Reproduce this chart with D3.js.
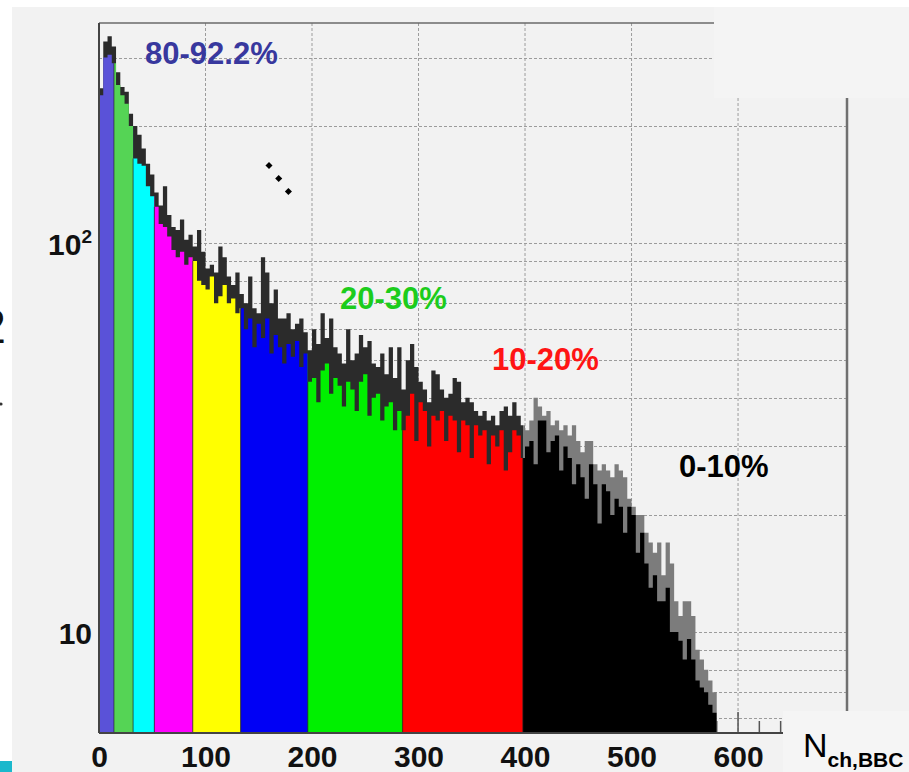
<!DOCTYPE html>
<html>
<head>
<meta charset="utf-8">
<script src="https://cdn.jsdelivr.net/npm/d3@7"></script>
<style>
  html, body { margin: 0; padding: 0; background: #ffffff; }
  svg { display: block; font-family: "Liberation Sans", Arial, Helvetica, sans-serif; }
</style>
</head>
<body>
<svg id="chart" width="909" height="772"></svg>
<script>
// Multiplicity distribution of BBC charge, split into centrality classes.
const binWidth = 4; // N_ch,BBC units per bin, first bin starts at 0

// Class-selected counts per bin (the coloured fill).
const fillCounts = [
  240, 300, 305, 290, 255, 240, 228, 200, 165, 160,
  158, 140, 132, 124, 112, 110, 104, 96, 92, 95,
  88, 92, 90, 80, 78, 76, 82, 70, 73, 78,
  70, 72, 66, 68, 60, 64, 54, 62, 57, 64,
  52, 58, 54, 49, 55, 51, 56, 48, 52, 44,
  45, 39, 47, 49, 41, 45, 43, 38, 44, 42,
  37, 44, 46, 36, 40, 41, 35, 38, 39, 33,
  37, 33, 36, 41, 31, 39, 37, 30, 36, 35,
  37, 31, 36, 35, 29, 35, 34, 28, 34, 32,
  33, 27, 32, 30, 33, 26, 29, 33, 32, 28,
  30, 31, 27, 35, 35, 29, 31, 32, 26, 30,
  28, 24, 27, 25, 22, 27, 24, 19, 24, 23,
  20, 22, 21, 18, 21, 20, 16, 18, 15, 13,
  14, 12, 12, 13, 10, 10, 9.5, 8.5, 9.6, 8.5,
  7.5, 7.2, 7.0, 6.5, 6.2
];

// Full minimum-bias counts per bin (the outline histogram).
const spikeCounts = [
  250, 330, 340, 320, 275, 252, 245, 215, 200, 190,
  175, 160, 150, 135, 125, 140, 118, 110, 108, 115,
  102, 105, 98, 108, 95, 86, 88, 84, 98, 92,
  82, 78, 84, 74, 70, 82, 68, 66, 92, 84,
  70, 76, 64, 64, 66, 60, 62, 64, 59, 53,
  60, 55, 66, 57, 64, 54, 52, 49, 60, 50,
  52, 58, 54, 56, 49, 48, 52, 46, 54, 45,
  54, 42, 50, 55, 48, 44, 42, 39, 47, 46,
  42, 40, 41, 45, 44, 39, 40, 39, 37, 36,
  37, 35, 36, 34, 37, 38, 36, 39, 36, 34,
  33, 35, 40, 38, 36, 37, 34, 35, 33, 34,
  32, 34, 31, 29, 31, 31, 27, 26, 27, 26,
  25, 27, 26, 25, 22, 21, 20, 20, 18, 17,
  16, 17, 14, 17, 15, 12, 11, 12, 12, 11,
  9, 8.5, 8, 7.5, 7
];

// Centrality class boundaries in N_ch,BBC (from peripheral to central).
const classEdges = [0, 14, 32, 52, 88, 133, 196, 285, 398, 580];
const classColors = ["#5a52d8", "#55d455", "#00ffff", "#ff00ff", "#ffff00",
                     "#0000f5", "#00f000", "#ff0000", "#000000"];

// Labelled classes.
const classLabels = ["80-92.2%", "20-30%", "10-20%", "0-10%"];
const classLabelColors = ["#38389e", "#1ccc1c", "#ff1414", "#000000"];

const xTickValues = [0, 100, 200, 300, 400, 500, 600];
const yTickValues = [10, 100];
const yGridValues = [6, 7, 8, 9, 10, 20, 30, 40, 50, 60, 70, 80, 90, 100, 200, 300];

const svg = d3.select("#chart");
const W = 909, H = 772;
const frame = { left: 99, right: 847, top: 23, bottom: 733 };

// Page backdrop
svg.append("rect").attr("width", W).attr("height", H).attr("fill", "#ffffff");
svg.append("rect").attr("x", 12).attr("y", 7).attr("width", W - 12).attr("height", H - 7).attr("fill", "#f2f2f2");

const x = d3.scaleLinear().domain([0, 702.3]).range([frame.left, frame.right]);
const y = d3.scaleLog().domain([5.5, 368]).range([frame.bottom, frame.top]);
const yMin = y.domain()[0];

// Grid
const grid = svg.append("g").attr("stroke", "#9c9c9c").attr("stroke-width", 1).attr("stroke-dasharray", "3,2");
grid.selectAll("line.v").data(xTickValues.filter(v => v > 0)).join("line")
  .attr("x1", d => x(d)).attr("x2", d => x(d))
  .attr("y1", frame.top).attr("y2", frame.bottom);
grid.selectAll("line.h").data(yGridValues).join("line")
  .attr("x1", frame.left).attr("x2", frame.right)
  .attr("y1", d => Math.round(y(d)) + 0.5).attr("y2", d => Math.round(y(d)) + 0.5);

// Axis tick marks (inside the frame)
const ticks = svg.append("g").attr("stroke", "#555").attr("stroke-width", 1.5);
const minorX = d3.range(0, 701, 20);
ticks.selectAll("line").data(minorX).join("line")
  .attr("x1", d => x(d)).attr("x2", d => x(d))
  .attr("y1", frame.bottom).attr("y2", d => frame.bottom - (d % 100 === 0 ? 21 : 12));

// Histogram geometry
const pts = arr => arr.map((c, i) => ({ n: i * binWidth, c }))
  .concat([{ n: arr.length * binWidth, c: arr[arr.length - 1] }]);
const area = d3.area()
  .x(d => x(d.n))
  .y0(frame.bottom)
  .y1(d => y(Math.max(d.c, yMin)))
  .curve(d3.curveStepAfter);

const defs = svg.append("defs");
const clipRange = (id, n0, n1) => {
  defs.append("clipPath").attr("id", id).append("rect")
    .attr("x", x(n0)).attr("y", 0)
    .attr("width", x(n1) - x(n0)).attr("height", H);
};

// Full distribution behind the class fills: dark over the coloured classes,
// grey over the most central class.
const lastEdge = classEdges[classEdges.length - 2];
clipRange("outerDark", 0, lastEdge);
clipRange("outerGrey", lastEdge, 702.3);
svg.append("path").datum(pts(spikeCounts)).attr("d", area)
  .attr("fill", "#2b2b2b").attr("clip-path", "url(#outerDark)");
svg.append("path").datum(pts(spikeCounts)).attr("d", area)
  .attr("fill", "#7c7c7c").attr("clip-path", "url(#outerGrey)");

// Class fills, each clipped to its N_ch range
classColors.forEach((col, k) => {
  const id = "cls" + k;
  clipRange(id, classEdges[k], classEdges[k + 1]);
  svg.append("path").datum(pts(fillCounts)).attr("d", area)
    .attr("fill", col).attr("clip-path", `url(#${id})`);
});

// Dark separators between classes
svg.append("g").selectAll("line").data(classEdges.slice(1, -1)).join("line")
  .attr("x1", d => x(d)).attr("x2", d => x(d))
  .attr("y1", frame.bottom)
  .attr("y2", d => y(fillCounts[Math.min(Math.floor(d / binWidth), fillCounts.length - 1)]))
  .attr("stroke", "#222").attr("stroke-opacity", 0.55).attr("stroke-width", 1.2);

// Frame
const fr = svg.append("g").attr("fill", "none");
fr.append("line").attr("x1", frame.left).attr("x2", frame.right).attr("y1", frame.top).attr("y2", frame.top)
  .attr("stroke", "#6a6a6a").attr("stroke-width", 1.5);
fr.append("line").attr("x1", frame.right).attr("x2", frame.right).attr("y1", frame.top).attr("y2", frame.bottom)
  .attr("stroke", "#707070").attr("stroke-width", 2.5);
fr.append("line").attr("x1", frame.left).attr("x2", frame.left).attr("y1", frame.top).attr("y2", frame.bottom)
  .attr("stroke", "#444").attr("stroke-width", 2);
fr.append("line").attr("x1", frame.left).attr("x2", frame.right).attr("y1", frame.bottom).attr("y2", frame.bottom)
  .attr("stroke", "#444").attr("stroke-width", 2);

// X axis labels
const xAxis = d3.axisBottom(x).tickValues(xTickValues).tickSize(0).tickFormat(d3.format("d"));
const gx = svg.append("g").attr("transform", `translate(0,${frame.bottom})`).call(xAxis);
gx.select(".domain").remove();
gx.selectAll("text")
  .attr("y", 34).attr("dy", 0)
  .attr("fill", "#111").attr("font-size", 30).attr("font-weight", "bold")
  .attr("font-family", "'Liberation Sans', Arial, sans-serif");

// Y axis labels (log decades)
const yAxis = d3.axisLeft(y).tickValues(yTickValues).tickSize(0).tickFormat("");
const gy = svg.append("g").attr("transform", `translate(${frame.left},0)`).call(yAxis);
gy.select(".domain").remove();
gy.selectAll(".tick text").remove();
gy.selectAll(".tick").each(function (d) {
  const exp = Math.round(Math.log10(d));
  const t = d3.select(this).append("text")
    .attr("x", -7).attr("y", 11).attr("text-anchor", "end")
    .attr("fill", "#111").attr("font-size", 30).attr("font-weight", "bold");
  t.append("tspan").text("10");
  if (exp > 1) t.append("tspan").attr("dy", -12).attr("font-size", 19).text(String(exp));
});

// Class annotations
const labelPos = [[145, 64], [340, 309], [492, 370], [679, 477]];
svg.append("g").selectAll("text").data(classLabels).join("text")
  .attr("x", (d, i) => labelPos[i][0]).attr("y", (d, i) => labelPos[i][1])
  .attr("fill", (d, i) => classLabelColors[i])
  .attr("font-size", 31).attr("font-weight", "bold")
  .text(d => d);

// Diagonal ellipsis for the omitted intermediate classes
svg.append("g").selectAll("rect").data([0, 1, 2]).join("rect")
  .attr("width", 5).attr("height", 5)
  .attr("transform", d => `translate(${269 + d * 9.7},${162 + d * 13}) rotate(45)`)
  .attr("fill", "#000");

// Cover panels
svg.append("rect").attr("x", 714).attr("y", 0).attr("width", W - 714).attr("height", 98).attr("fill", "#f4f4f4");
svg.append("rect").attr("x", 783).attr("y", 711).attr("width", W - 783).attr("height", H - 711).attr("fill", "#f5f5f5");
svg.append("rect").attr("x", 0).attr("y", 0).attr("width", W).attr("height", 7).attr("fill", "#ffffff");
svg.append("rect").attr("x", 0).attr("y", 0).attr("width", 12).attr("height", H).attr("fill", "#ffffff");
svg.append("rect").attr("x", 0).attr("y", 761).attr("width", 12).attr("height", 11).attr("fill", "#1bb8cc");

// Edge remnants of the side label
svg.append("text").attr("x", 6).attr("y", 343).attr("text-anchor", "end")
  .attr("font-size", 48).attr("fill", "#111").text("2");
svg.append("circle").attr("cx", 1).attr("cy", 404).attr("r", 1.6).attr("fill", "#333");

// X axis title
const xt = svg.append("text").attr("x", 803).attr("y", 757).attr("fill", "#000");
xt.append("tspan").attr("font-size", 34).text("N");
xt.append("tspan").attr("dy", 10).attr("font-size", 21).attr("font-weight", "bold").text("ch,BBC");
</script>
</body>
</html>
